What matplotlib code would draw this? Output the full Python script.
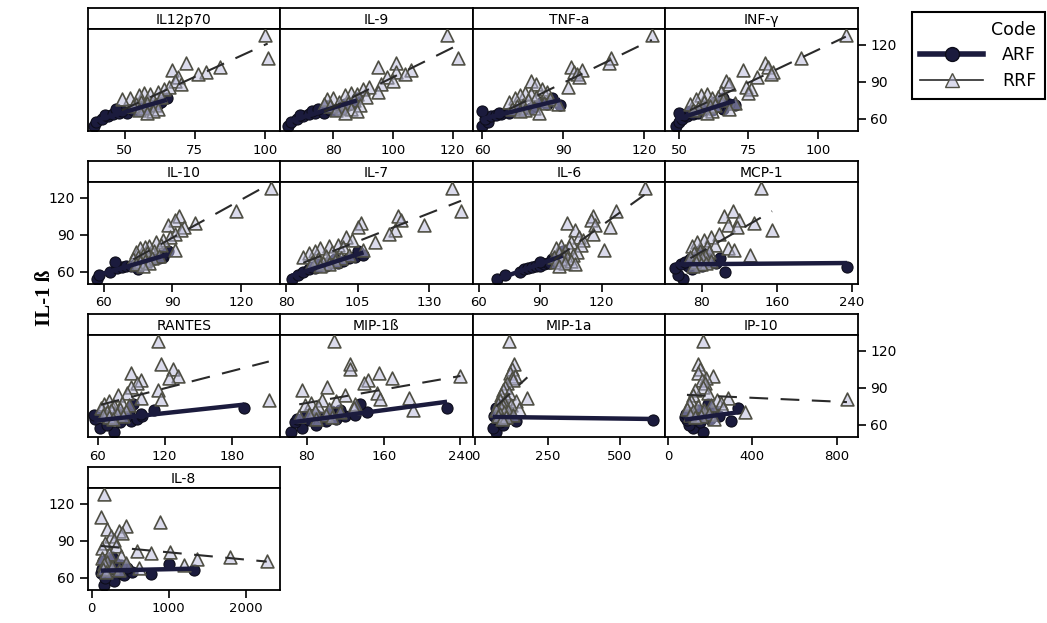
import numpy as np
import matplotlib
matplotlib.use("Agg")
import matplotlib.pyplot as plt
from matplotlib.lines import Line2D

W, H = 1047, 623

panels = ["IL12p70", "IL-9", "TNF-a", "INF-γ", "IL-10", "IL-7", "IL-6", "MCP-1",
          "RANTES", "MIP-1ß", "MIP-1a", "IP-10", "IL-8"]

# IL-1ß (response) for each patient group
arf_il1b = [54, 57, 60, 62, 63, 64, 65, 65, 66, 67, 67, 68, 69, 70, 71, 72, 74, 77]
rrf_il1b = [128, 109, 105, 102, 100, 98, 96, 94, 91, 88, 86, 84, 82, 81, 80, 79, 78,
            77, 76, 75, 74, 73, 72, 71, 70, 69, 68, 67, 66, 65]

# cytokine (predictor) values, ARF patients
arf_il12p70 = [39, 40, 42, 44, 43, 46, 48, 51, 49, 53, 55, 47, 58, 56, 60, 62, 63, 65]
arf_il9 = [65, 66, 68, 70, 69, 72, 74, 77, 73, 79, 81, 75, 83, 78, 85, 84, 87, 88]
arf_tnfa = [60, 62, 61, 63, 65, 67, 66, 70, 60, 72, 75, 74, 78, 80, 89, 84, 82, 86]
arf_infg = [49, 50, 51, 53, 52, 55, 50, 57, 54, 59, 62, 66, 60, 64, 70, 68, 63, 66]
arf_il10 = [57, 58, 63, 75, 66, 68, 70, 72, 74, 76, 78, 65, 80, 82, 84, 86, 86, 88]
arf_il7 = [82, 84, 86, 88, 90, 89, 92, 94, 91, 96, 98, 95, 100, 97, 102, 104, 107, 105]
arf_il6 = [69, 73, 80, 82, 84, 86, 88, 90, 92, 94, 95, 90, 98, 96, 97, 100, 99, 101]
arf_mcp1 = [60, 55, 105, 70, 52, 235, 65, 80, 58, 95, 72, 62, 88, 68, 100, 75, 85, 78]
arf_rantes = [75, 62, 68, 80, 90, 72, 58, 95, 85, 65, 100, 57, 99, 78, 88, 110, 191, 92]
arf_mip1b = [63, 75, 90, 68, 100, 82, 110, 70, 95, 120, 78, 130, 88, 143, 105, 115, 226, 135]
arf_mip1a = [70, 60, 95, 87, 140, 616, 75, 110, 80, 65, 100, 90, 120, 78, 85, 105, 70, 95]
arf_ip10 = [168, 120, 100, 150, 300, 90, 200, 130, 80, 240, 110, 180, 85, 160, 220, 140, 332, 190]
arf_il8 = [163, 290, 180, 420, 765, 120, 350, 520, 1330, 140, 250, 460, 200, 380, 1000, 300, 150, 260]

# cytokine (predictor) values, RRF patients
rrf_il12p70 = [100, 101, 72, 84, 67, 79, 76, 69, 68, 70, 66, 64, 62, 57, 59, 55, 63, 52,
               49, 60, 56, 58, 54, 61, 53, 57, 62, 55, 60, 58]
rrf_il9 = [118, 122, 101, 95, 106, 101, 104, 98, 100, 96, 92, 90, 95, 86, 88, 84, 91, 80,
           78, 87, 82, 85, 77, 89, 79, 83, 86, 81, 88, 84]
rrf_tnfa = [123, 108, 107, 93, 97, 94, 95, 96, 78, 80, 92, 82, 84, 76, 78, 74, 80, 72,
            85, 77, 70, 83, 88, 75, 73, 79, 71, 76, 74, 81]
rrf_infg = [110, 94, 81, 82, 73, 84, 83, 78, 67, 68, 74, 76, 65, 75, 60, 58, 64, 62,
            56, 66, 59, 70, 54, 63, 61, 57, 68, 55, 62, 60]
rrf_il10 = [133, 118, 93, 91, 100, 88, 95, 94, 91, 89, 86, 83, 85, 80, 78, 76, 91, 82,
            74, 79, 77, 84, 75, 81, 73, 78, 76, 80, 74, 77]
rrf_il7 = [138, 141, 119, 120, 106, 128, 105, 118, 116, 101, 103, 111, 98, 95, 100, 92,
           107, 90, 96, 88, 102, 94, 86, 99, 91, 97, 89, 93, 95, 92]
rrf_il6 = [141, 127, 116, 115, 103, 117, 124, 107, 116, 109, 111, 105, 110, 100, 104, 98,
           121, 102, 108, 99, 106, 101, 97, 103, 100, 105, 98, 102, 107, 99]
rrf_mcp1 = [143, 113, 104, 120, 136, 108, 118, 155, 99, 90, 82, 75, 94, 70, 86, 108, 115,
            78, 88, 72, 131, 84, 68, 80, 76, 90, 74, 85, 79, 71]
rrf_rantes = [114, 117, 127, 90, 132, 124, 99, 95, 90, 114, 86, 78, 99, 117, 213, 70, 82,
              66, 88, 75, 63, 80, 72, 85, 68, 77, 65, 83, 70, 74]
rrf_mip1b = [108, 125, 125, 155, 240, 169, 144, 140, 101, 75, 153, 120, 186, 156, 96, 110,
             84, 130, 78, 92, 129, 103, 191, 88, 115, 82, 100, 72, 106, 90]
rrf_mip1a = [116, 134, 128, 120, 138, 126, 132, 110, 104, 96, 118, 90, 180, 108, 84, 142,
             100, 78, 122, 94, 88, 150, 72, 112, 98, 86, 130, 80, 106, 92]
rrf_ip10 = [168, 144, 150, 140, 215, 180, 160, 175, 165, 130, 190, 120, 285, 848, 230, 110,
            250, 100, 205, 140, 260, 90, 170, 120, 363, 195, 105, 155, 130, 220]
rrf_il8 = [163, 120, 893, 440, 206, 350, 400, 250, 292, 180, 320, 140, 592, 1022, 765, 230,
           380, 1795, 130, 1366, 2268, 200, 450, 160, 1193, 260, 614, 150, 350, 190]

# x-axis ticks of each panel
x_ticks = [[50, 75, 100], [80, 100, 120], [60, 90, 120], [50, 75, 100],
           [60, 90, 120], [80, 105, 130], [60, 90, 120], [80, 160, 240],
           [60, 120, 180], [80, 160, 240], [0, 250, 500], [0, 400, 800],
           [0, 1000, 2000]]
y_ticks = [60, 90, 120]

arf_x = [arf_il12p70, arf_il9, arf_tnfa, arf_infg, arf_il10, arf_il7, arf_il6, arf_mcp1,
         arf_rantes, arf_mip1b, arf_mip1a, arf_ip10, arf_il8]
rrf_x = [rrf_il12p70, rrf_il9, rrf_tnfa, rrf_infg, rrf_il10, rrf_il7, rrf_il6, rrf_mcp1,
         rrf_rantes, rrf_mip1b, rrf_mip1a, rrf_ip10, rrf_il8]

# axis limits per panel
x_limits = [(36.8, 105.4), (62.2, 126.7), (56.3, 127.9), (45, 114.2),
            (53, 137), (77.9, 145), (57, 151), (41, 246),
            (51, 223), (52, 252.5), (-10, 657), (-14, 898),
            (-52, 2440)]
y_limits = (50, 133)

ARF_COLOR = "#1b1b3d"
RRF_FACE = (0.72, 0.72, 0.86, 0.5)
RRF_EDGE = "#4f4f44"
TICK_FONT = "DejaVu Sans"

fig = plt.figure(figsize=(W / 100, H / 100), dpi=100)

col_left = [87.5, 280, 472.5, 665]
col_w = 192.5
row_top = [8, 161, 314, 467]
head_h = 21
plot_h = 102

for i, name in enumerate(panels):
    r, c = divmod(i, 4)
    x0 = col_left[c]
    top = row_top[r]
    # strip with the panel title
    hax = fig.add_axes([x0 / W, 1 - (top + head_h) / H, col_w / W, head_h / H])
    hax.set_xticks([])
    hax.set_yticks([])
    for s in hax.spines.values():
        s.set_linewidth(1.3)
    hax.text(0.5, 0.45, name, ha="center", va="center", fontsize=10,
             family=TICK_FONT, transform=hax.transAxes)

    ax = fig.add_axes([x0 / W, 1 - (top + head_h + plot_h) / H, col_w / W, plot_h / H])
    for s in ax.spines.values():
        s.set_linewidth(1.3)

    xa = np.asarray(arf_x[i], float)
    ya = np.asarray(arf_il1b, float)
    xr = np.asarray(rrf_x[i], float)
    yr = np.asarray(rrf_il1b, float)

    ax.scatter(xa, ya, s=64, marker="o", facecolor=ARF_COLOR, edgecolor="#0d0d1a",
               linewidth=0.8, zorder=2)
    ax.scatter(xr, yr, s=85, marker="^", facecolor=RRF_FACE, edgecolor=RRF_EDGE,
               linewidth=1.2, zorder=3)

    # least-squares fit lines over each group's range
    ka = np.polyfit(xa, ya, 1)
    xs = np.array([xa.min(), xa.max()])
    ax.plot(xs, np.polyval(ka, xs), color=ARF_COLOR, lw=3.2, solid_capstyle="butt",
            zorder=4)
    kr = np.polyfit(xr, yr, 1)
    xs = np.array([xr.min(), xr.max()])
    ax.plot(xs, np.polyval(kr, xs), color="#2a2a2a", lw=1.5, dashes=(9, 6),
            zorder=5)

    ax.set_xlim(*x_limits[i])
    ax.set_ylim(*y_limits)
    ax.set_xticks(x_ticks[i])
    ax.tick_params(axis="x", direction="out", length=6, width=1.2, pad=3,
                   labelsize=9.5)
    for lab in ax.get_xticklabels():
        lab.set_family(TICK_FONT)

    ax.set_yticks(y_ticks)
    if (r in (0, 2) and c == 3):
        ax.yaxis.tick_right()
        ax.tick_params(axis="y", direction="out", length=6, width=1.2, pad=3,
                       labelsize=10)
    elif (r in (1, 3) and c == 0):
        ax.tick_params(axis="y", direction="out", length=6, width=1.2, pad=3,
                       labelsize=10)
    else:
        ax.tick_params(axis="y", left=False, right=False, labelleft=False,
                       labelright=False)
    for lab in ax.get_yticklabels():
        lab.set_family(TICK_FONT)

fig.text(45 / W, 1 - 298 / H, "IL-1 ß", rotation=90, ha="center", va="center",
         family="Liberation Serif", weight="bold", fontsize=15)

handles = [
    Line2D([], [], color=ARF_COLOR, lw=4, marker="o", markersize=10,
           markerfacecolor=ARF_COLOR, markeredgecolor="#0d0d1a"),
    Line2D([], [], color="#2a2a2a", lw=1.2, marker="^", markersize=10,
           markerfacecolor=RRF_FACE, markeredgecolor=RRF_EDGE),
]
leg = fig.legend(handles, ["ARF", "RRF"], title="Code", loc="upper right",
                 bbox_to_anchor=(1045 / W, 1 - 12 / H), borderaxespad=0,
                 fontsize=12.5, title_fontsize=12.5, fancybox=False, edgecolor="black",
                 handlelength=3.6, handletextpad=1.1, borderpad=0.5,
                 labelspacing=0.45, alignment="right", framealpha=1)
leg.get_frame().set_linewidth(1.5)

fig.savefig("out.png", dpi=100)
